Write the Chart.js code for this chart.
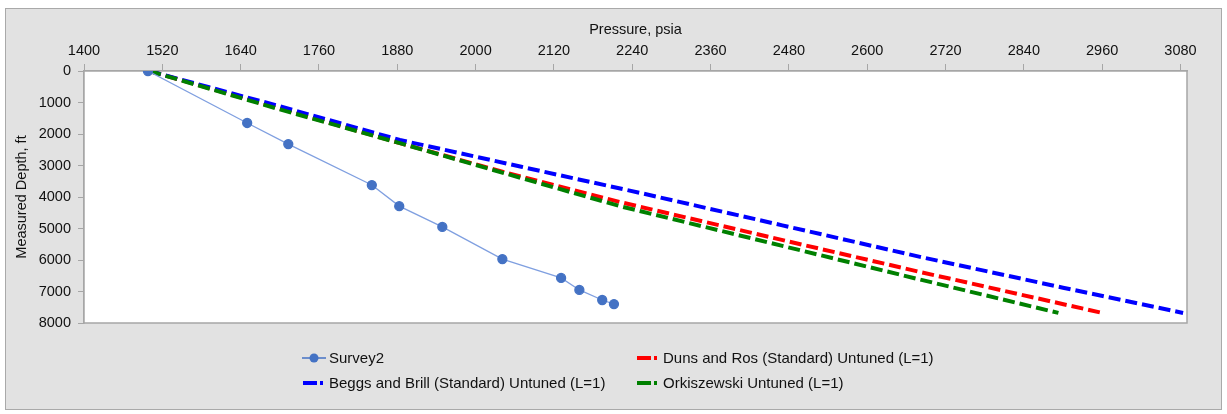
<!DOCTYPE html>
<html>
<head>
<meta charset="utf-8">
<script src="https://cdn.jsdelivr.net/npm/chart.js@4"></script>
<style>
  body { margin: 0; background: #fff; font-family: "Liberation Sans", Arial, sans-serif; }
  #frame { position: absolute; left: 5px; top: 8px; width: 1215px; height: 400px;
           border: 1px solid #a9a9a9; background: #e2e2e2; }
  #chart { position: absolute; left: 0; top: 0; }
  .leg { position: absolute; font-size: 15px; color: #111; white-space: nowrap; height: 18px; line-height: 18px; }
  .leg .mk { position: absolute; left: 0; top: 1px; width: 24px; height: 16px; }
  .leg .tx { position: absolute; left: 27px; top: 0; }
</style>
</head>
<body>
<div id="frame"><canvas id="chart" width="1215" height="400"></canvas></div>

<div class="leg" style="left:302px; top:349px;">
  <svg class="mk" viewBox="0 0 24 16"><line x1="0" y1="8" x2="24" y2="8" stroke="#4472c4" stroke-width="1.5"/><circle cx="12" cy="8" r="4.5" fill="#4472c4"/></svg>
  <span class="tx">Survey2</span>
</div>
<div class="leg" style="left:636px; top:349px;">
  <svg class="mk" viewBox="0 0 24 16"><rect x="1" y="6" width="14" height="4" fill="#ff0000"/><rect x="18" y="6" width="3" height="4" fill="#ff0000"/></svg>
  <span class="tx">Duns and Ros (Standard) Untuned (L=1)</span>
</div>
<div class="leg" style="left:302px; top:374px;">
  <svg class="mk" viewBox="0 0 24 16"><rect x="1" y="6" width="14" height="4" fill="#0000ff"/><rect x="18" y="6" width="3" height="4" fill="#0000ff"/></svg>
  <span class="tx">Beggs and Brill (Standard) Untuned (L=1)</span>
</div>
<div class="leg" style="left:636px; top:374px;">
  <svg class="mk" viewBox="0 0 24 16"><rect x="1" y="6" width="14" height="4" fill="#008000"/><rect x="18" y="6" width="3" height="4" fill="#008000"/></svg>
  <span class="tx">Orkiszewski Untuned (L=1)</span>
</div>

<script>
// pressure (psia) vs measured depth (ft)
var surveyPressure = [1498, 1650, 1713, 1841, 1883, 1949, 2041, 2131, 2159, 2194, 2212];
var surveyDepth    = [0, 1650, 2320, 3620, 4290, 4950, 5970, 6570, 6950, 7270, 7400];

var dunsPressure = [1500, 1700, 1884, 2050, 2221, 2450, 2681, 2960];
var dunsDepth    = [0, 1190, 2290, 3250, 4160, 5270, 6380, 7680];

var beggsPressure = [1500, 1700, 1884, 2070, 2252, 2470, 2681, 2900, 3084];
var beggsDepth    = [0, 1120, 2190, 3040, 3870, 4900, 5900, 6880, 7680];

var orkPressure = [1500, 1700, 1884, 2050, 2221, 2450, 2671, 2893];
var orkDepth    = [0, 1220, 2290, 3280, 4290, 5450, 6570, 7680];

var xTicks = [1400, 1520, 1640, 1760, 1880, 2000, 2120, 2240, 2360, 2480, 2600, 2720, 2840, 2960, 3080];
var yTicks = [0, 1000, 2000, 3000, 4000, 5000, 6000, 7000, 8000];
var X_MIN = 1400, X_MAX = 3090;
var Y_MIN = 0, Y_MAX = 8000;

function pts(xs, ys) {
  return xs.map(function (x, i) { return { x: x, y: ys[i] }; });
}

// white plot area + grey border all round
var plotFrame = {
  id: 'plotFrame',
  beforeDatasetsDraw: function (chart) {
    var a = chart.chartArea, ctx = chart.ctx;
    ctx.save();
    ctx.fillStyle = '#ffffff';
    ctx.fillRect(a.left, a.top, a.right - a.left, a.bottom - a.top);
    ctx.strokeStyle = '#a6a6a6';
    ctx.lineWidth = 1.5;
    ctx.strokeRect(a.left, a.top, a.right - a.left, a.bottom - a.top);
    ctx.restore();
  }
};

var dashed = function (label, color, xs, ys, order) {
  return {
    label: label,
    data: pts(xs, ys),
    showLine: true,
    borderColor: color,
    backgroundColor: color,
    borderWidth: 4,
    borderDash: [12, 5],
    pointRadius: 0,
    tension: 0,
    order: order,
  };
};

var tickFont = { size: 14.5, family: 'Liberation Sans' };

var ctx = document.getElementById('chart').getContext('2d');
new Chart(ctx, {
  type: 'scatter',
  data: {
    datasets: [
      {
        label: 'Survey2',
        data: pts(surveyPressure, surveyDepth),
        showLine: true,
        borderColor: '#7f9fe0',
        borderWidth: 1.3,
        pointRadius: 4.5,
        pointBackgroundColor: '#4472c4',
        pointBorderColor: '#4472c4',
        order: 0,
      },
      dashed('Duns and Ros (Standard) Untuned (L=1)', '#ff0000', dunsPressure, dunsDepth, 3),
      dashed('Beggs and Brill (Standard) Untuned (L=1)', '#0000ff', beggsPressure, beggsDepth, 2),
      dashed('Orkiszewski Untuned (L=1)', '#008000', orkPressure, orkDepth, 1),
    ],
  },
  options: {
    responsive: false,
    animation: false,
    layout: { padding: { left: 6, top: 12, right: 34, bottom: 86 } },
    plugins: { legend: { display: false }, tooltip: { enabled: false } },
    scales: {
      x: {
        type: 'linear',
        position: 'top',
        min: X_MIN,
        max: X_MAX,
        afterBuildTicks: function (s) { s.ticks = xTicks.map(function (v) { return { value: v }; }); },
        afterFit: function (s) { s.height = 50; },
        title: { display: true, text: 'Pressure, psia', color: '#111',
                 font: tickFont, padding: { top: 0, bottom: 0 } },
        ticks: { autoSkip: false, color: '#111', padding: 4, maxRotation: 0, font: tickFont,
                 callback: function (v) { return String(v); } },
        grid: { drawOnChartArea: false, tickLength: 7, color: '#a6a6a6' },
        border: { color: '#a6a6a6', width: 1.5 },
      },
      y: {
        type: 'linear',
        reverse: true,
        min: Y_MIN,
        max: Y_MAX,
        afterBuildTicks: function (s) { s.ticks = yTicks.map(function (v) { return { value: v }; }); },
        afterFit: function (s) { s.width = 72; },
        title: { display: true, text: 'Measured Depth, ft', color: '#111',
                 font: tickFont, padding: { top: 1, bottom: 1 } },
        ticks: { autoSkip: false, color: '#111', padding: 7, font: tickFont,
                 callback: function (v) { return String(v); } },
        grid: { drawOnChartArea: false, tickLength: 6, color: '#a6a6a6' },
        border: { color: '#a6a6a6', width: 1.5 },
      },
    },
  },
  plugins: [plotFrame],
});
</script>
</body>
</html>
